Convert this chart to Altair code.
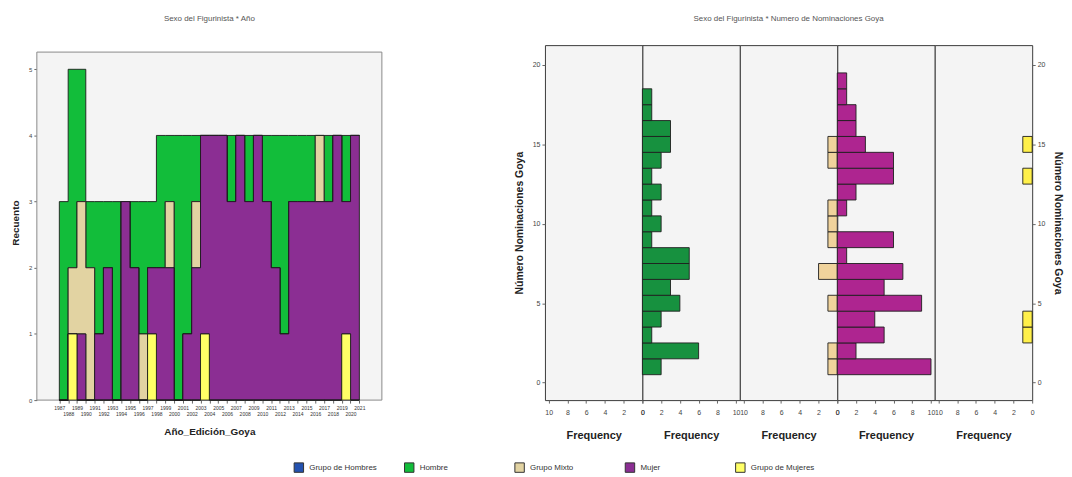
import altair as alt
import pandas as pd

# ---------------- data: left chart (count per year and category) ----------------
years = [1987, 1988, 1989, 1990, 1991, 1992, 1993, 1994, 1995, 1996, 1997, 1998,
         1999, 2000, 2001, 2002, 2003, 2004, 2005, 2006, 2007, 2008, 2009, 2010,
         2011, 2012, 2013, 2014, 2015, 2016, 2017, 2018, 2019, 2020, 2021]
hombre_year = [3, 3, 2, 1, 2, 1, 3, 0, 1, 2, 1, 2, 1, 4, 3, 1, 0, 0, 0, 1, 0, 1, 0, 1,
               2, 3, 1, 1, 1, 0, 1, 0, 1, 0, 0]
mixto_year = [0, 1, 2, 2, 0, 0, 0, 0, 0, 1, 0, 0, 1, 0, 0, 1, 0, 0, 0, 0, 0, 0, 0, 0,
              0, 0, 0, 0, 0, 1, 0, 0, 0, 0, 0]
mujer_year = [0, 0, 1, 0, 1, 2, 0, 3, 2, 0, 1, 2, 2, 0, 1, 2, 3, 4, 4, 3, 4, 3, 4, 3,
              2, 1, 3, 3, 3, 3, 3, 4, 2, 4, 4]
gmujeres_year = [0, 1, 0, 0, 0, 0, 0, 0, 0, 0, 1, 0, 0, 0, 0, 0, 1, 0, 0, 0, 0, 0, 0, 0,
                 0, 0, 0, 0, 0, 0, 0, 0, 1, 0, 0]

categories = ["Grupo de Hombres", "Hombre", "Grupo Mixto", "Mujer", "Grupo de Mujeres"]
area_colors = ["#2452b0", "#12bd3a", "#e2d3a2", "#8b2e93", "#ffff66"]

# ---------------- data: right chart (histogram of nominations) ----------------
nominaciones = [1, 2, 3, 4, 5, 6, 7, 8, 9, 10, 11, 12, 13, 14, 15, 16, 17, 18, 19]
ghombres_freq = [0, 0, 0, 0, 0, 0, 0, 0, 0, 0, 0, 0, 0, 0, 0, 0, 0, 0, 0]
hombre_freq = [2, 6, 1, 2, 4, 3, 5, 5, 1, 2, 1, 2, 1, 2, 3, 3, 1, 1, 0]
mixto_freq = [1, 1, 0, 0, 1, 0, 2, 0, 1, 1, 1, 0, 0, 1, 1, 0, 0, 0, 0]
mujer_freq = [10, 2, 5, 4, 9, 5, 7, 1, 6, 0, 1, 2, 6, 6, 3, 2, 2, 1, 1]
gmujeres_freq = [0, 0, 1, 1, 0, 0, 0, 0, 0, 0, 0, 0, 1, 0, 1, 0, 0, 0, 0]
hist_colors = ["#2452b0", "#17913f", "#f0d39c", "#ae2590", "#fff04a"]

FONT = "Liberation Sans"

# left plot frame (SPSS box) in data units
X_LO, X_HI = 1984.45, 2023.55
Y_FRAME_TOP = 5.26
LEFT_H, RIGHT_H = 357, 357
Y_SCALE_TOP = Y_FRAME_TOP * LEFT_H / 350.0

# ---------------- left chart ----------------
rows = []
stack_rank = {"Grupo de Mujeres": 0, "Mujer": 1, "Grupo Mixto": 2, "Hombre": 3}
series = {"Hombre": hombre_year, "Grupo Mixto": mixto_year,
          "Mujer": mujer_year, "Grupo de Mujeres": gmujeres_year}
for cat, vals in series.items():
    for y, v in zip(years, vals):
        rows.append({"year": y, "cat": cat, "count": v, "rank": stack_rank[cat]})
area_df = pd.DataFrame(rows)

x_scale = alt.Scale(domain=[X_LO, X_HI], nice=False, zero=False)
y_scale = alt.Scale(domain=[0, Y_SCALE_TOP], nice=False)
x_axis = alt.Axis(values=years, format="d", labelFontSize=5, labelAngle=0,
                  labelColor="#333", tickSize=3, tickColor="#666",
                  labelPadding={"condition": {"test": "datum.value % 2 == 0",
                                              "value": 8}, "value": 2},
                  labelOverlap=False, labelFlush=False, grid=False, domain=False,
                  title="Año_Edición_Goya", titleFontSize=10,
                  titleFontWeight="bold", titlePadding=11, titleColor="#222")
y_axis = alt.Axis(values=[0, 1, 2, 3, 4, 5], labelFontSize=6, labelColor="#444",
                  tickSize=3, tickColor="#666", grid=False, domain=False,
                  title="Recuento", titleFontSize=10, titleFontWeight="bold",
                  titlePadding=8, titleColor="#222")

frame_df = pd.DataFrame({"x0": [X_LO], "x1": [X_HI], "y0": [0.0], "y1": [Y_FRAME_TOP]})
frame = alt.Chart(frame_df).mark_rect(fill="#f4f4f4", stroke="#8a8a8a",
                                      strokeWidth=1).encode(
    x=alt.X("x0:Q", scale=x_scale, axis=x_axis),
    x2="x1:Q",
    y=alt.Y("y0:Q", scale=y_scale, axis=y_axis),
    y2="y1:Q",
)

areas = alt.Chart(area_df).mark_area(
    interpolate="step-after", stroke="#1c1c1c", strokeWidth=0.9, opacity=1
).encode(
    x=alt.X("year:Q", scale=x_scale, axis=x_axis),
    y=alt.Y("count:Q", stack="zero", scale=y_scale, axis=y_axis),
    color=alt.Color("cat:N",
                    scale=alt.Scale(domain=categories, range=area_colors),
                    legend=alt.Legend(orient="none", legendX=258, legendY=419,
                                      direction="horizontal", columns=5, gridAlign="all",
                                      columnPadding=24, symbolType="square", symbolSize=90,
                                      symbolStrokeColor="#333", symbolStrokeWidth=1,
                                      symbolOpacity=1, labelFontSize=8, labelColor="#333",
                                      labelOffset=5, labelLimit=0, title=None)),
    order=alt.Order("rank:Q", sort="ascending"),
)

left = alt.layer(frame, areas).properties(
    width=347, height=LEFT_H,
    title=alt.TitleParams("Sexo del Figurinista * Año", fontSize=8, fontWeight="normal",
                          color="#555", anchor="middle", frame="group", offset=22),
    view=alt.ViewBackground(fill="white", strokeWidth=0),
)

# ---------------- right chart ----------------
def panel(freqs, color, reverse, yaxis):
    df = pd.DataFrame({"n": nominaciones, "freq": freqs})
    df["lo"] = df["n"] - 0.5
    df["hi"] = df["n"] + 0.5
    df["base"] = 0
    df = df[df["freq"] > 0]
    if yaxis is None:
        yax = None
    else:
        yax = alt.Axis(values=[0, 5, 10, 15, 20], orient=yaxis, labelFontSize=7,
                       labelColor="#444", tickSize=3, tickColor="#666", grid=False,
                       domain=False, title="Número Nominaciones Goya", titleFontSize=10.5,
                       titleFontWeight="bold", titleColor="#222", titlePadding=8)
    return alt.Chart(df).mark_rect(stroke="#1e1e1e", strokeWidth=0.9, color=color,
                                   opacity=1).encode(
        x=alt.X("base:Q",
                scale=alt.Scale(domain=[0, 10.4], nice=False, reverse=reverse),
                axis=alt.Axis(values=[0, 2, 4, 6, 8, 10], labelFontSize=7,
                              labelColor="#444", tickSize=3, tickColor="#666", grid=False,
                              domain=False, labelFlush=False, labelOverlap=False,
                              labelPadding=5,
                              title="Frequency", titleFontSize=11, titleFontWeight="bold",
                              titleColor="#222", titlePadding=15)),
        x2="freq:Q",
        y=alt.Y("lo:Q", scale=alt.Scale(domain=[-1.1, 21.25], nice=False, zero=False),
                axis=yax),
        y2="hi:Q",
    ).properties(width=98, height=RIGHT_H,
                 view=alt.ViewBackground(fill="#f4f4f4", stroke="#3a3a3a"))

p1 = panel(ghombres_freq, hist_colors[0], True, "left")
p2 = panel(hombre_freq, hist_colors[1], False, None)
p3 = panel(mixto_freq, hist_colors[2], True, None)
p4 = panel(mujer_freq, hist_colors[3], False, None)
p5 = panel(gmujeres_freq, hist_colors[4], True, "right")

right = alt.hconcat(p1, p2, p3, p4, p5, spacing=0, bounds="flush").properties(
    title=alt.TitleParams("Sexo del Figurinista * Numero de Nominaciones Goya",
                          fontSize=8, fontWeight="normal", color="#555",
                          anchor="middle", offset=22)
)

chart = alt.hconcat(left, right, spacing=131).properties(
    padding={"left": 2, "top": 5, "right": 0, "bottom": 0},
    background="white",
).configure(font=FONT).configure_view(strokeWidth=1)

chart.save("out.html", embed_options={"renderer": "svg", "actions": False})
